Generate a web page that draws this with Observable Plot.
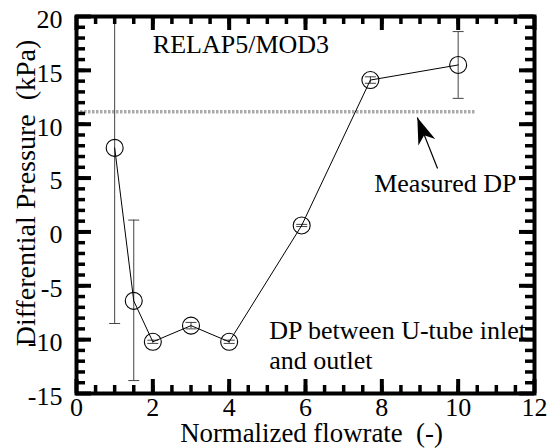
<!DOCTYPE html>
<html><head><meta charset="utf-8">
<script src="https://cdn.jsdelivr.net/npm/d3@7"></script>
<script src="https://cdn.jsdelivr.net/npm/@observablehq/plot@0.6"></script>
<style>
  html,body{margin:0;padding:0;background:#fff}
  svg text{white-space:pre}
</style>
</head><body><div id="chart"></div>
<script>
// ---- data ----
const flowrate     = [1, 1.5, 2, 3, 4, 5.9, 7.7, 10];
const diffPressure = [7.8, -6.4, -10.2, -8.7, -10.2, 0.6, 14.1, 15.5];
const errLow       = [-8.5, -13.8, -10.35, -9.0, -10.35, 0.5, 13.8, 12.4];
const errHigh      = [20, 1.1, -10.05, -8.4, -10.05, 0.7, 14.4, 18.6];
const measuredDP   = 11.15;
const measuredSpan = [0, 10.45];
const arrowTip     = [8.93, 10.62];
const arrowTail    = [9.46, 5.89];
const xMajorTicks  = [0, 2, 4, 6, 8, 10, 12];
const yMajorTicks  = [-15, -10, -5, 0, 5, 10, 15, 20];
const xMinorTicks  = d3.range(0.5, 12, 0.5);
const yMinorTicks  = d3.range(-14, 20, 1);
const labels = [
  {text: "RELAP5/MOD3", x: 2.0, y: 17.5},
  {text: "Measured DP", x: 7.8, y: 4.6},
  {text: "DP between U-tube inlet\nand outlet", x: 5.05, y: -10.45}
];
const xTitle = "Normalized flowrate  (-)";
const yTitle = "Differential Pressure  (kPa)";

// ---- build ----
const points = flowrate.map((x, i) => ({x, y: diffPressure[i], lo: errLow[i], hi: errHigh[i]}));
const W = 556, H = 448, mL = 76, mR = 22, mT = 16, mB = 55;
const iw = W - mL - mR, ih = H - mT - mB;
const font = "'Liberation Serif', Tinos, 'Times New Roman', 'DejaVu Serif', serif";

const capSymbol = {draw(ctx, size) { const r = Math.sqrt(size / Math.PI); ctx.moveTo(-r, 0); ctx.lineTo(r, 0); }};
const headSymbol = {draw(ctx, size) {
  const r = Math.sqrt(size / Math.PI), L = 2.2 * r, w = 0.75 * r;
  ctx.moveTo(0, 0); ctx.lineTo(w, L); ctx.lineTo(0, 0.72 * L); ctx.lineTo(-w, L); ctx.closePath();
}};

const chart = Plot.plot({
  width: W, height: H,
  marginLeft: mL, marginRight: mR, marginTop: mT, marginBottom: mB,
  style: {fontFamily: font, fontSize: "26px", color: "#000", background: "#fff"},
  x: {domain: [0, 12]},
  y: {domain: [-15, 20]},
  marks: [
    Plot.ruleY([measuredDP], {x1: measuredSpan[0], x2: measuredSpan[1], stroke: "#aaaaaa", strokeWidth: 3.5, strokeDasharray: "2.5,1.5"}),
    Plot.ruleX(points, {x: "x", y1: "lo", y2: "hi", stroke: "#444", strokeWidth: 1}),
    Plot.dot(points, {x: "x", y: "lo", symbol: capSymbol, r: 5.5, stroke: "#444", fill: "none", strokeWidth: 1}),
    Plot.dot(points, {x: "x", y: "hi", symbol: capSymbol, r: 5.5, stroke: "#444", fill: "none", strokeWidth: 1}),
    Plot.line(points, {x: "x", y: "y", stroke: "#000", strokeWidth: 1}),
    Plot.dot(points, {x: "x", y: "y", r: 8.5, stroke: "#000", fill: "none", strokeWidth: 1.1}),
    Plot.link([0], {x1: arrowTail[0], y1: arrowTail[1], x2: arrowTip[0], y2: arrowTip[1], stroke: "#000", strokeWidth: 1.2}),
    Plot.dot([0], {x: arrowTip[0], y: arrowTip[1], symbol: headSymbol, r: 12, fill: "#000", stroke: "none", rotate: -21}),
    Plot.text(labels, {x: "x", y: "y", text: "text", textAnchor: "start", lineAnchor: "middle", fontFamily: font, fontSize: 26, lineHeight: 1.15, fill: "#000"}),
    Plot.ruleY(yMajorTicks, {insetRight: iw - 15, strokeWidth: 4, stroke: "#000"}),
    Plot.ruleY(yMajorTicks, {insetLeft: iw - 15, strokeWidth: 4, stroke: "#000"}),
    Plot.ruleY(yMinorTicks, {insetRight: iw - 9, strokeWidth: 3.5, stroke: "#000"}),
    Plot.ruleY(yMinorTicks, {insetLeft: iw - 9, strokeWidth: 3.5, stroke: "#000"}),
    Plot.ruleX(xMajorTicks, {insetTop: ih - 14, strokeWidth: 4, stroke: "#000"}),
    Plot.ruleX(xMajorTicks, {insetBottom: ih - 14, strokeWidth: 4, stroke: "#000"}),
    Plot.ruleX(xMinorTicks, {insetTop: ih - 8, strokeWidth: 3.5, stroke: "#000"}),
    Plot.ruleX(xMinorTicks, {insetBottom: ih - 8, strokeWidth: 3.5, stroke: "#000"}),
    Plot.frame({stroke: "#000", strokeWidth: 4}),
    Plot.axisX(xMajorTicks, {tickSize: 0, tickPadding: 4, fontSize: 26, fontFamily: font, tickFormat: d => String(d), label: null}),
    Plot.axisY(yMajorTicks, {tickSize: 0, tickPadding: 14, fontSize: 26, fontFamily: font, dy: 3, tickFormat: d => String(d), label: null}),
    Plot.text([xTitle], {frameAnchor: "bottom", textAnchor: "middle", lineAnchor: "middle", dx: 6, dy: 40, fontFamily: font, fontSize: 26.8, fill: "#000"}),
    Plot.text([yTitle], {frameAnchor: "left", textAnchor: "middle", lineAnchor: "middle", rotate: -90, dx: -50, dy: -12, fontFamily: font, fontSize: 28, fill: "#000"})
  ]
});
document.getElementById("chart").appendChild(chart);
</script>
</body></html>
